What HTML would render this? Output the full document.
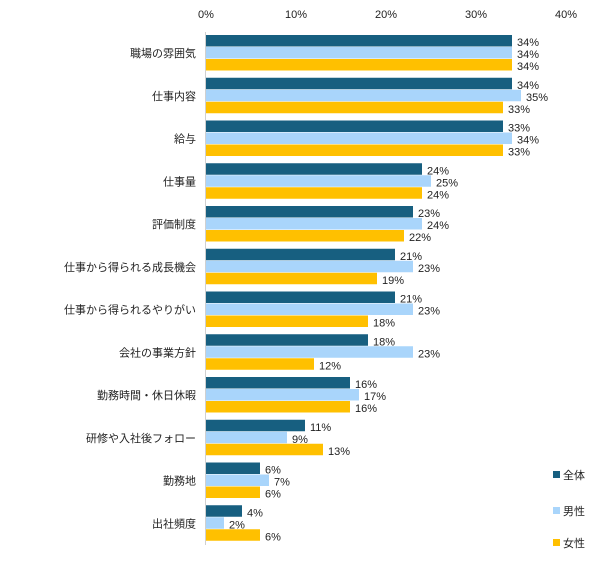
<!DOCTYPE html>
<html><head><meta charset="utf-8"><style>
body{margin:0;background:#fff;}
svg text{font-family:"Liberation Sans","Noto Sans CJK JP",sans-serif;font-size:11px;fill:#222;}
</style></head><body>
<svg id="chart" width="600" height="562" xmlns="http://www.w3.org/2000/svg">
<g id="axis"></g><g id="bars"></g><g id="legend"></g>
</svg>
<script>
const categories=["職場の雰囲気","仕事内容","給与","仕事量","評価制度","仕事から得られる成長機会","仕事から得られるやりがい","会社の事業方針","勤務時間・休日休暇","研修や入社後フォロー","勤務地","出社頻度"];
const seriesNames=["全体","男性","女性"];
const allValues=[34,34,33,24,23,21,21,18,16,11,6,4];
const maleValues=[34,35,34,25,24,23,23,23,17,9,7,2];
const femaleValues=[34,33,33,24,22,19,18,12,16,13,6,6];
const tickValues=[0,10,20,30,40];
const colors=["#175f80","#a9d5fb","#ffc000"];
const NS="http://www.w3.org/2000/svg";
const x0=206,scale=9.0,groupTop=35,pitch=42.75,barH=12;
const xs=v=>x0+v*scale;
function mk(tag,attrs,parent){const e=document.createElementNS(NS,tag);for(const k in attrs)e.setAttribute(k,attrs[k]);parent.appendChild(e);return e;}
const axis=document.getElementById('axis'),bars=document.getElementById('bars'),legend=document.getElementById('legend');
tickValues.forEach(t=>{const tx=mk('text',{x:xs(t),y:18,'text-anchor':'middle'},axis);tx.textContent=t+'%';

});
const al=mk('line',{x1:205.5,x2:205.5,y1:32,y2:545,stroke:'#d0d0d0','stroke-width':1},axis);


const series=[allValues,maleValues,femaleValues];
categories.forEach((c,i)=>{
 const gy=groupTop+i*pitch;
 const lab=mk('text',{x:196,y:gy+barH*1.5+4,'text-anchor':'end'},axis);lab.textContent=c;
 
 
 series.forEach((s,j)=>{
  const y=gy+j*barH;
  const r=mk('rect',{x:x0,y:y,width:xs(s[i])-x0,height:barH-0.5,fill:colors[j]},bars);
  
  
  const t=mk('text',{x:xs(s[i])+5,y:y+barH-1},bars);t.textContent=s[i]+'%';
  
  
 });
});
const legY=[471,507,539];
seriesNames.forEach((n,j)=>{
 const r=mk('rect',{x:553,y:legY[j],width:7,height:7,fill:colors[j]},legend);
 
 
 const t=mk('text',{x:563,y:legY[j]+8},legend);t.textContent=n;
 
 
});
</script>
</body></html>
